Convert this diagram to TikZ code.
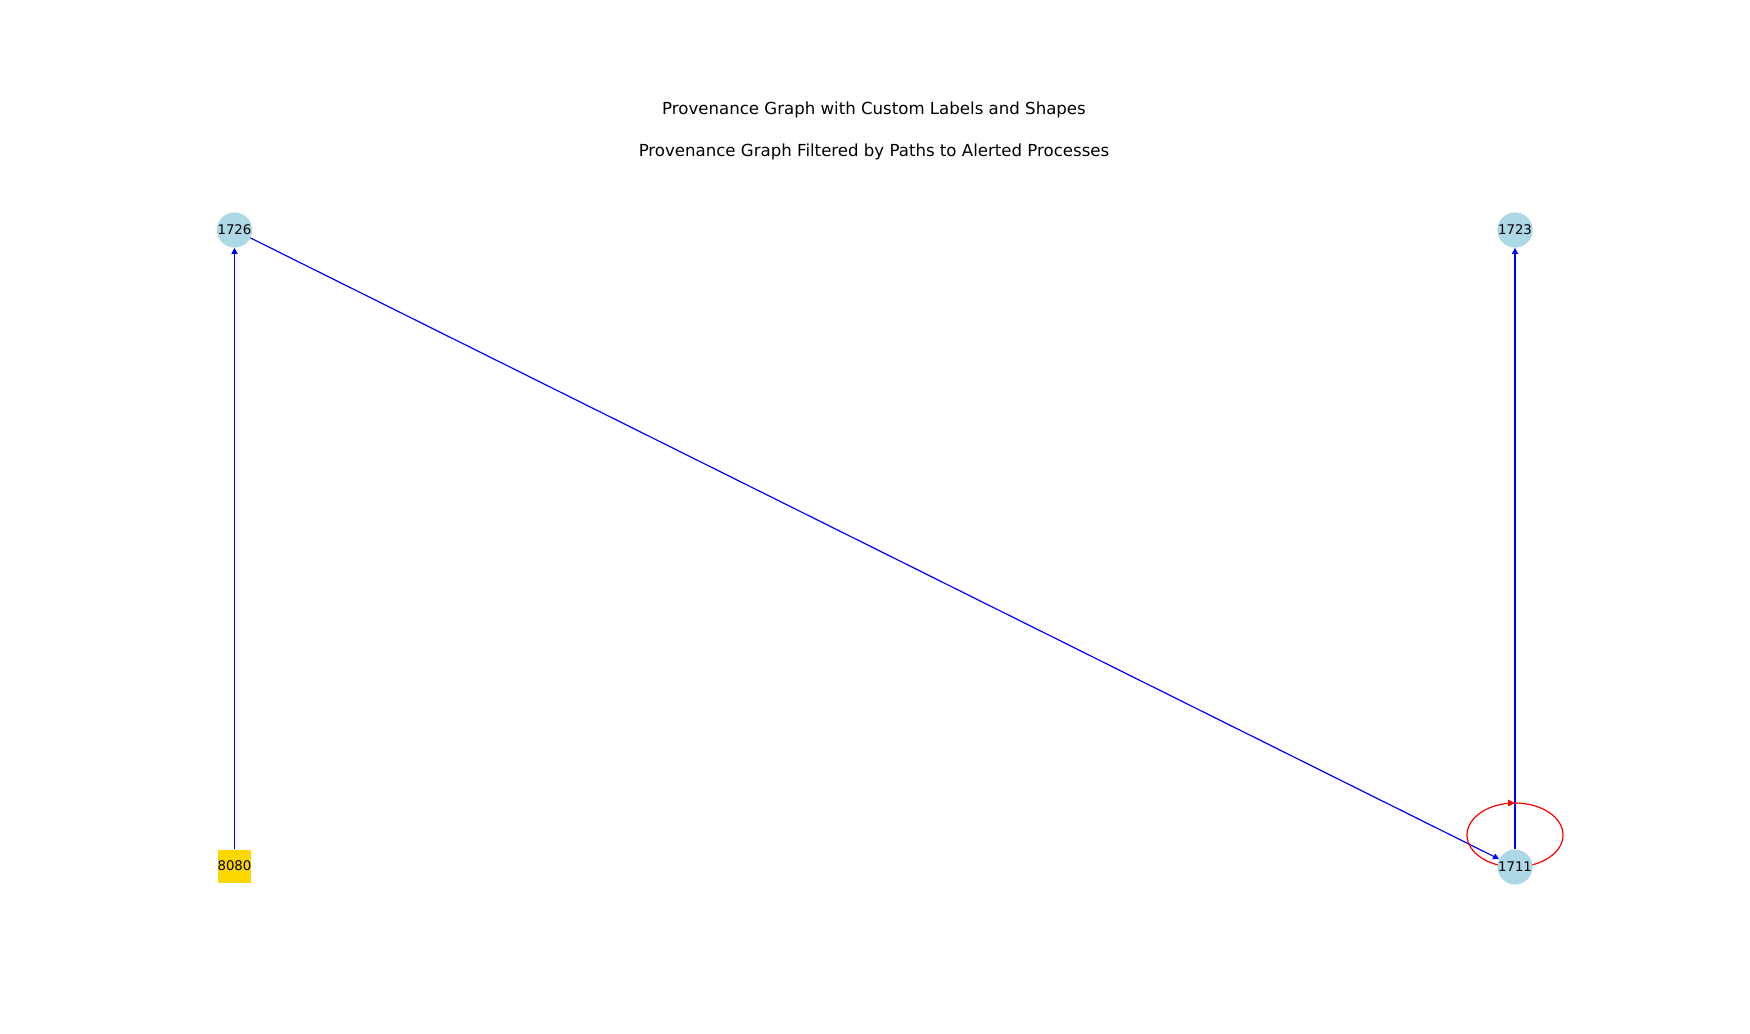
\documentclass[tikz,border=0pt]{standalone}
\usepackage{fontspec}
\setmainfont{DejaVu Sans}
\usetikzlibrary{arrows.meta,decorations.markings}
\pgfdeclarelayer{bg}
\pgfsetlayers{bg,main}
\definecolor{nodeblue}{HTML}{ADD8E6}
\definecolor{nodegold}{HTML}{FFD700}
\begin{document}
\begin{tikzpicture}[x=1pt,y=-1pt,
  proc/.style={circle, fill=nodeblue, minimum size=33pt, inner sep=0pt, font=\fontsize{13.3}{13.3}\selectfont},
  sock/.style={rectangle, fill=nodegold, minimum size=33pt, inner sep=0pt, font=\fontsize{13.3}{13.3}\selectfont},
  edgeb/.style={draw=blue, line width=1.2pt, -{Triangle[length=6pt,width=6pt]}},
  loopedge/.style={draw=red, line width=1.2pt, postaction={decorate},
    decoration={markings, mark=at position 0.5 with {\arrow{Triangle[length=7pt,width=6.5pt]}}}},
  titlestyle/.style={font=\fontsize{16.6}{16.6}\selectfont, inner sep=0pt, anchor=base}]
\useasboundingbox (0,0) rectangle (1750,1033);
\node[titlestyle] (t1) at (874,114.5) {Provenance Graph with Custom Labels and Shapes};
\node[titlestyle] (t2) at (874,156) {Provenance Graph Filtered by Paths to Alerted Processes};
\node[proc] (n1726) at (234.5,230) {1726};
\node[proc] (n1723) at (1515,230) {1723};
\node[sock] (n8080) at (234.5,866) {8080};
\node[proc] (n1711) at (1515,867) {1711};
\begin{pgfonlayer}{bg}
\draw[edgeb] (n8080) -- (n1726);
\draw[edgeb] (n1726) -- (n1711);
\draw[edgeb] (n1711) -- (n1723);
\draw[loopedge] (n1711.center) .. controls (1488.5,867) and (1467,852.7) .. (1467,835)
  .. controls (1467,817.3) and (1488.5,803) .. (1515,803)
  .. controls (1541.5,803) and (1563,817.3) .. (1563,835)
  .. controls (1563,852.7) and (1541.5,867) .. (n1711.center);
\end{pgfonlayer}
\end{tikzpicture}
\end{document}
